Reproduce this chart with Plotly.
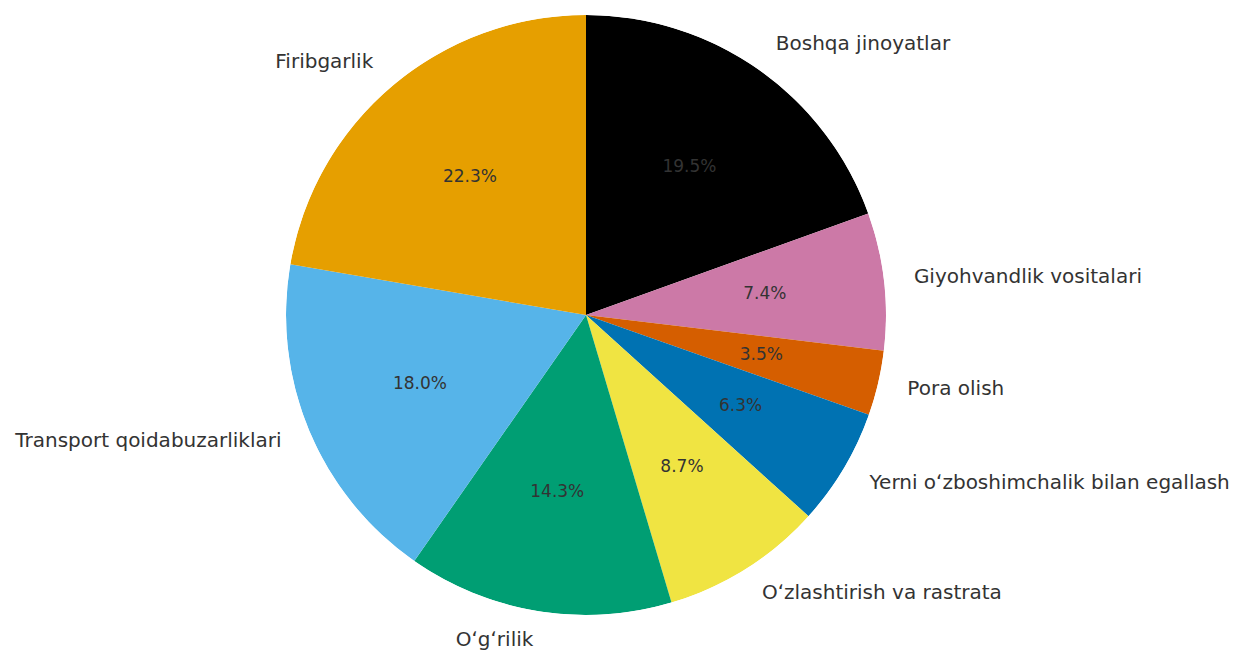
import math
import plotly.graph_objects as go

labels = ["Boshqa jinoyatlar", "Giyohvandlik vositalari", "Pora olish",
          "Yerni oʻzboshimchalik bilan egallash", "Oʻzlashtirish va rastrata",
          "Oʻgʻrilik", "Transport qoidabuzarliklari", "Firibgarlik"]
shares = [19.5, 7.4, 3.5, 6.3, 8.7, 14.3, 18.0, 22.3]
colors = ["#000000", "#CC79A7", "#D55E00", "#0072B2",
          "#F0E442", "#009E73", "#56B4E9", "#E69F00"]

# mid angle and angular width of each slice, clockwise from 12 o'clock
total = sum(shares)
mids, widths = [], []
cum = 0
for v in shares:
    mids.append(360 * (cum + v / 2) / total)
    widths.append(360 * v / total)
    cum += v

pct_text = [f"{v:.1f}%" for v in shares]
label_pos = ["middle right" if m < 180 else "middle left" for m in mids]
# label anchors at 1.1 x radius (in pie-radius units)
lab_x = [1.1 * math.sin(math.radians(m)) for m in mids]
lab_y = [1.1 * math.cos(math.radians(m)) for m in mids]

W, H = 1237, 650
# page body adds an 8px margin, so the figure sits at (8, 8)
cx, cy, rad = 586 - 8, 315 - 8, 300
dom_x = [(cx - rad) / W, (cx + rad) / W]
dom_y = [(H - cy - rad) / H, (H - cy + rad) / H]

fig = go.Figure()
# the wedges
fig.add_trace(go.Barpolar(
    r=[1] * len(shares), theta=mids, width=widths,
    marker=dict(color=colors, line=dict(width=0)),
    text=labels, hovertemplate="%{text}<extra></extra>", showlegend=False,
))
# percentages inside the slices
fig.add_trace(go.Scatterpolar(
    r=[0.6] * len(shares), theta=mids, mode="text", text=pct_text,
    textfont=dict(family="DejaVu Sans", size=17, color="#333333"),
    hoverinfo="skip", showlegend=False,
))
# category labels outside (on hidden cartesian axes, 1 unit = pie radius)
fig.add_trace(go.Scatter(
    x=lab_x, y=lab_y, mode="text", text=labels, textposition=label_pos,
    cliponaxis=False,
    textfont=dict(family="DejaVu Sans", size=20, color="#333333"),
    hoverinfo="skip", showlegend=False,
))

fig.update_layout(
    width=W, height=H,
    margin=dict(l=0, r=0, t=0, b=0),
    paper_bgcolor="white",
    plot_bgcolor="rgba(0,0,0,0)",
    xaxis=dict(visible=False, range=[-cx / rad, (W - cx) / rad], fixedrange=True),
    yaxis=dict(visible=False, range=[-(H - cy) / rad, cy / rad], fixedrange=True),
    polar=dict(
        domain=dict(x=dom_x, y=dom_y),
        bgcolor="rgba(0,0,0,0)",
        bargap=0,
        radialaxis=dict(visible=False, range=[0, 1]),
        angularaxis=dict(visible=False, direction="clockwise", rotation=90),
    ),
)
fig.write_html("out.html")
